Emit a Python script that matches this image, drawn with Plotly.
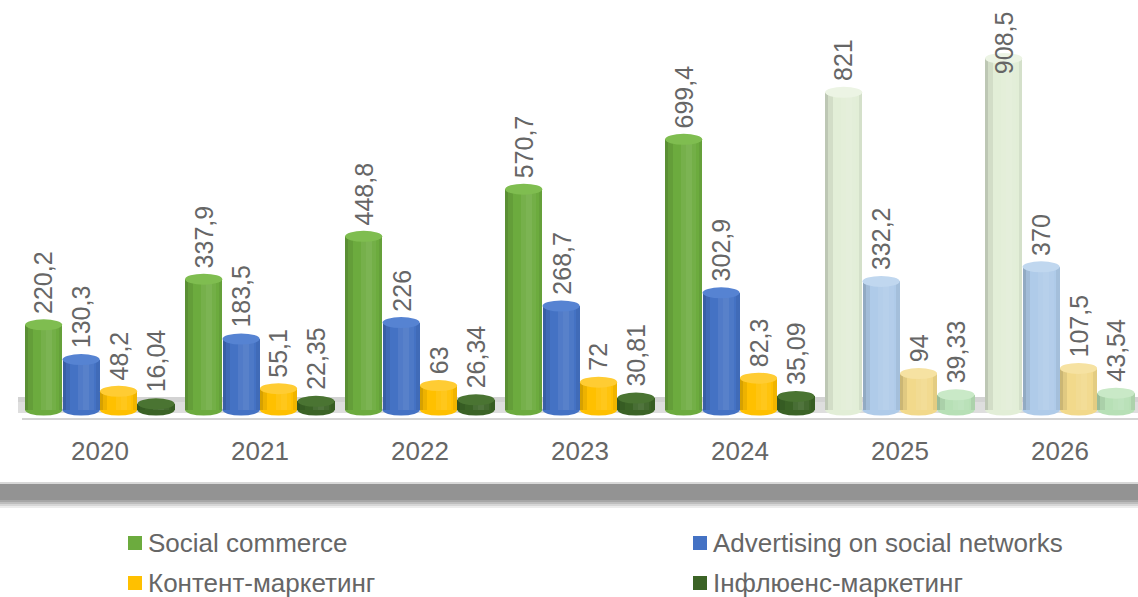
import numpy as np
import plotly.graph_objects as go

# ---- data -------------------------------------------------------------
years = ["2020", "2021", "2022", "2023", "2024", "2025", "2026"]
series_names = [
    "Social commerce",
    "Advertising on social networks",
    "Контент-маркетинг",
    "Інфлюенс-маркетинг",
]
social_commerce = [220.2, 337.9, 448.8, 570.7, 699.4, 821, 908.5]
advertising = [130.3, 183.5, 226, 268.7, 302.9, 332.2, 370]
content_marketing = [48.2, 55.1, 63, 72, 82.3, 94, 107.5]
influencer_marketing = [16.04, 22.35, 26.34, 30.81, 35.09, 39.33, 43.54]
forecast_from = 5  # index of first forecast year (drawn pale)

# ---- styling ----------------------------------------------------------
W, H = 1138, 597
PLOT_BOTTOM = 430          # px from top where the plot area ends
ZERO_PX = 410              # px position of value 0
PX_PER_UNIT = 0.387
Y_MIN = -(PLOT_BOTTOM - ZERO_PX) / PX_PER_UNIT
Y_MAX = ZERO_PX / PX_PER_UNIT
PITCH_PX = 160
FIRST_CENTER_PX = 100

body = ["#6cab3e", "#4472c4", "#ffc000", "#3b6326"]
cap = ["#7fbd50", "#5683d2", "#ffcc33", "#4a7432"]
body_pale = ["#e2eed7", "#afcbe9", "#f2d98b", "#b7e0b6"]
cap_pale = ["#ecf4e4", "#c0d7ef", "#f6e2a2", "#c9e9c7"]
text_grey = "#666666"
LABEL_SIZE = 25

values = [social_commerce, advertising, content_marketing, influencer_marketing]
x_idx = np.arange(len(years))
bar_w = 0.232
offsets = [-0.468 + k * 0.234 for k in range(4)]
cap_half = 5.5 / PX_PER_UNIT  # half height of the elliptical caps

# shading strips across each cylinder: (start fraction, width fraction, rgba)
shading = [
    (0.00, 0.08, "rgba(0,0,0,0.16)"),
    (0.08, 0.12, "rgba(0,0,0,0.07)"),
    (0.42, 0.14, "rgba(255,255,255,0.07)"),
    (0.56, 0.16, "rgba(255,255,255,0.11)"),
    (0.72, 0.12, "rgba(255,255,255,0.05)"),
    (0.90, 0.10, "rgba(0,0,0,0.06)"),
]


def fmt(v):
    return f"{v:g}".replace(".", ",")


def px_x(p):
    return p / W


def px_y(p):
    return (PLOT_BOTTOM - p) / PLOT_BOTTOM


fig = go.Figure()
shapes = []
annotations = []

# floor behind the columns
shapes.append(dict(type="rect", xref="paper", yref="paper", layer="below",
                   x0=px_x(18), x1=1, y0=px_y(413), y1=px_y(397),
                   fillcolor="#dedede", line_width=0))
shapes.append(dict(type="rect", xref="paper", yref="paper", layer="below",
                   x0=px_x(18), x1=1, y0=px_y(402), y1=px_y(397),
                   fillcolor="#d3d3d3", line_width=0))
shapes.append(dict(type="line", xref="paper", yref="paper", layer="below",
                   x0=px_x(22), x1=1, y0=px_y(419), y1=px_y(419),
                   line=dict(color="#d4d4d4", width=2)))

for k, (name, vals) in enumerate(zip(series_names, values)):
    cols = [body_pale[k] if i >= forecast_from else body[k] for i in range(len(vals))]
    caps = [cap_pale[k] if i >= forecast_from else cap[k] for i in range(len(vals))]
    off = offsets[k]
    # cylinder body
    fig.add_trace(go.Bar(x=x_idx, y=vals, name=name, offset=off, width=bar_w,
                         marker=dict(color=cols, line_width=0), showlegend=False,
                         hoverinfo="skip"))
    # curved-surface shading
    for s0, sw, rgba in shading:
        fig.add_trace(go.Bar(x=x_idx, y=vals, offset=off + bar_w * s0, width=bar_w * sw,
                             marker=dict(color=rgba, line_width=0),
                             showlegend=False, hoverinfo="skip"))
    for i, v in enumerate(vals):
        x0 = i + off
        x1 = i + off + bar_w
        # rounded bottom
        shapes.append(dict(type="circle", xref="x", yref="y", layer="below",
                           x0=x0, x1=x1, y0=-cap_half, y1=cap_half,
                           fillcolor=cols[i], line_width=0))
        # top cap
        shapes.append(dict(type="circle", xref="x", yref="y", layer="above",
                           x0=x0, x1=x1, y0=v - cap_half, y1=v + cap_half,
                           fillcolor=caps[i], line_width=0))
        # value label; labels that would run past the top edge are pinned below it
        label = fmt(v)
        text_px = LABEL_SIZE * (0.556 * sum(ch.isdigit() for ch in label)
                                + 0.278 * label.count(","))
        if v * PX_PER_UNIT + 9 + text_px > ZERO_PX - 8:
            annotations.append(dict(x=(x0 + x1) / 2, y=Y_MAX, xref="x", yref="y",
                                    text=label, textangle=-90, showarrow=False,
                                    xanchor="center", yanchor="top", yshift=-9,
                                    font=dict(size=LABEL_SIZE, color=text_grey)))
        else:
            annotations.append(dict(x=(x0 + x1) / 2, y=v, xref="x", yref="y",
                                    text=label, textangle=-90, showarrow=False,
                                    xanchor="center", yanchor="bottom", yshift=9,
                                    font=dict(size=LABEL_SIZE, color=text_grey)))

# dark band under the category labels
shapes.append(dict(type="rect", xref="paper", yref="paper", x0=0, x1=1,
                   y0=px_y(500), y1=px_y(484), fillcolor="#939393", line_width=0))
for j, c in enumerate(["#a6a6a6", "#bdbdbd", "#d6d6d6", "#ececec"]):
    shapes.append(dict(type="rect", xref="paper", yref="paper", x0=0, x1=1,
                       y0=px_y(502 + 2 * j), y1=px_y(500 + 2 * j),
                       fillcolor=c, line_width=0))
shapes.append(dict(type="line", xref="paper", yref="paper", x0=0, x1=1,
                   y0=px_y(483), y1=px_y(483), line=dict(color="#d8d8d8", width=2)))

# legend (two columns, two rows)
legend_pos = [(128, 543), (693, 543), (128, 583), (693, 583)]
for k, name in enumerate(series_names):
    lx, ly = legend_pos[k]
    shapes.append(dict(type="rect", xref="paper", yref="paper",
                       x0=px_x(lx), x1=px_x(lx + 14), y0=px_y(ly + 7), y1=px_y(ly - 7),
                       fillcolor=body[k], line_width=0))
    annotations.append(dict(x=px_x(lx + 18), y=px_y(ly), xref="paper", yref="paper",
                            text=name, showarrow=False, xanchor="left", yanchor="middle",
                            font=dict(size=26, color=text_grey)))

x_start = -FIRST_CENTER_PX / PITCH_PX
x_end = x_start + W / PITCH_PX

fig.update_layout(
    width=W, height=H,
    margin=dict(l=0, r=0, t=0, b=H - PLOT_BOTTOM),
    paper_bgcolor="white", plot_bgcolor="white",
    barmode="overlay", bargap=0,
    font=dict(family="Liberation Sans, Arial, sans-serif", color=text_grey),
    shapes=shapes, annotations=annotations,
    showlegend=False,
    xaxis=dict(range=[x_start, x_end], tickvals=list(x_idx), ticktext=years,
               showgrid=False, zeroline=False, showline=False, ticks="",
               tickfont=dict(size=26, color=text_grey), ticklabelstandoff=3,
               fixedrange=True),
    yaxis=dict(range=[Y_MIN, Y_MAX], visible=False, fixedrange=True),
)

fig.write_html("out.html", config={"displayModeBar": False})
